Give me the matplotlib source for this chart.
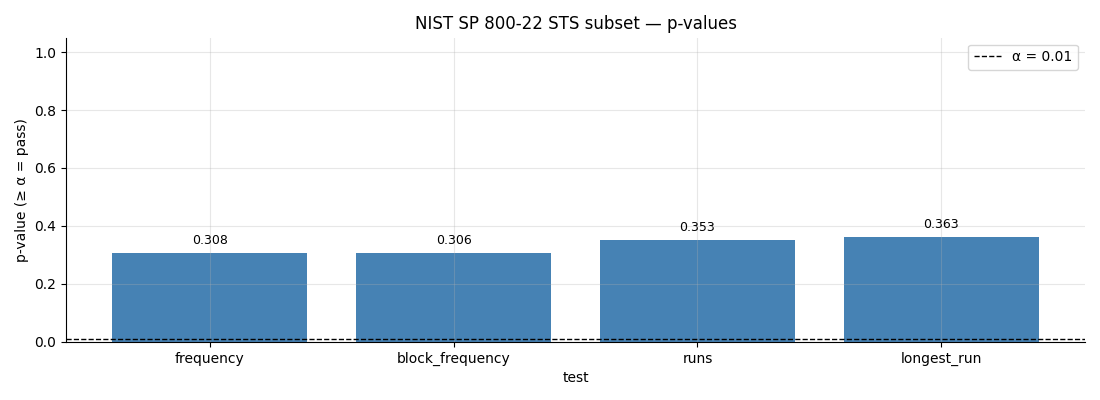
import matplotlib
matplotlib.use("Agg")
import matplotlib.pyplot as plt

tests = ["frequency", "block_frequency", "runs", "longest_run"]
pvalues = [0.308, 0.306, 0.353, 0.363]
alpha = 0.01

fig, ax = plt.subplots(figsize=(11, 4), dpi=100)
bars = ax.bar(tests, pvalues, color="steelblue", width=0.8)
ax.axhline(alpha, color="black", linestyle="--", linewidth=1, label="α = 0.01")
for b, v in zip(bars, pvalues):
    ax.text(b.get_x() + b.get_width() / 2, v + 0.02, f"{v:.3f}",
            ha="center", va="bottom", fontsize=9)

ax.set_ylim(0, 1.05)
ax.set_xlabel("test")
ax.set_ylabel("p-value (≥ α = pass)")
ax.set_title("NIST SP 800-22 STS subset — p-values")
ax.grid(True, alpha=0.3)
ax.spines["top"].set_visible(False)
ax.spines["right"].set_visible(False)
ax.legend(loc="upper right")

fig.subplots_adjust(left=0.06, right=0.9865, top=0.906, bottom=0.1455)
fig.savefig("out.png")
